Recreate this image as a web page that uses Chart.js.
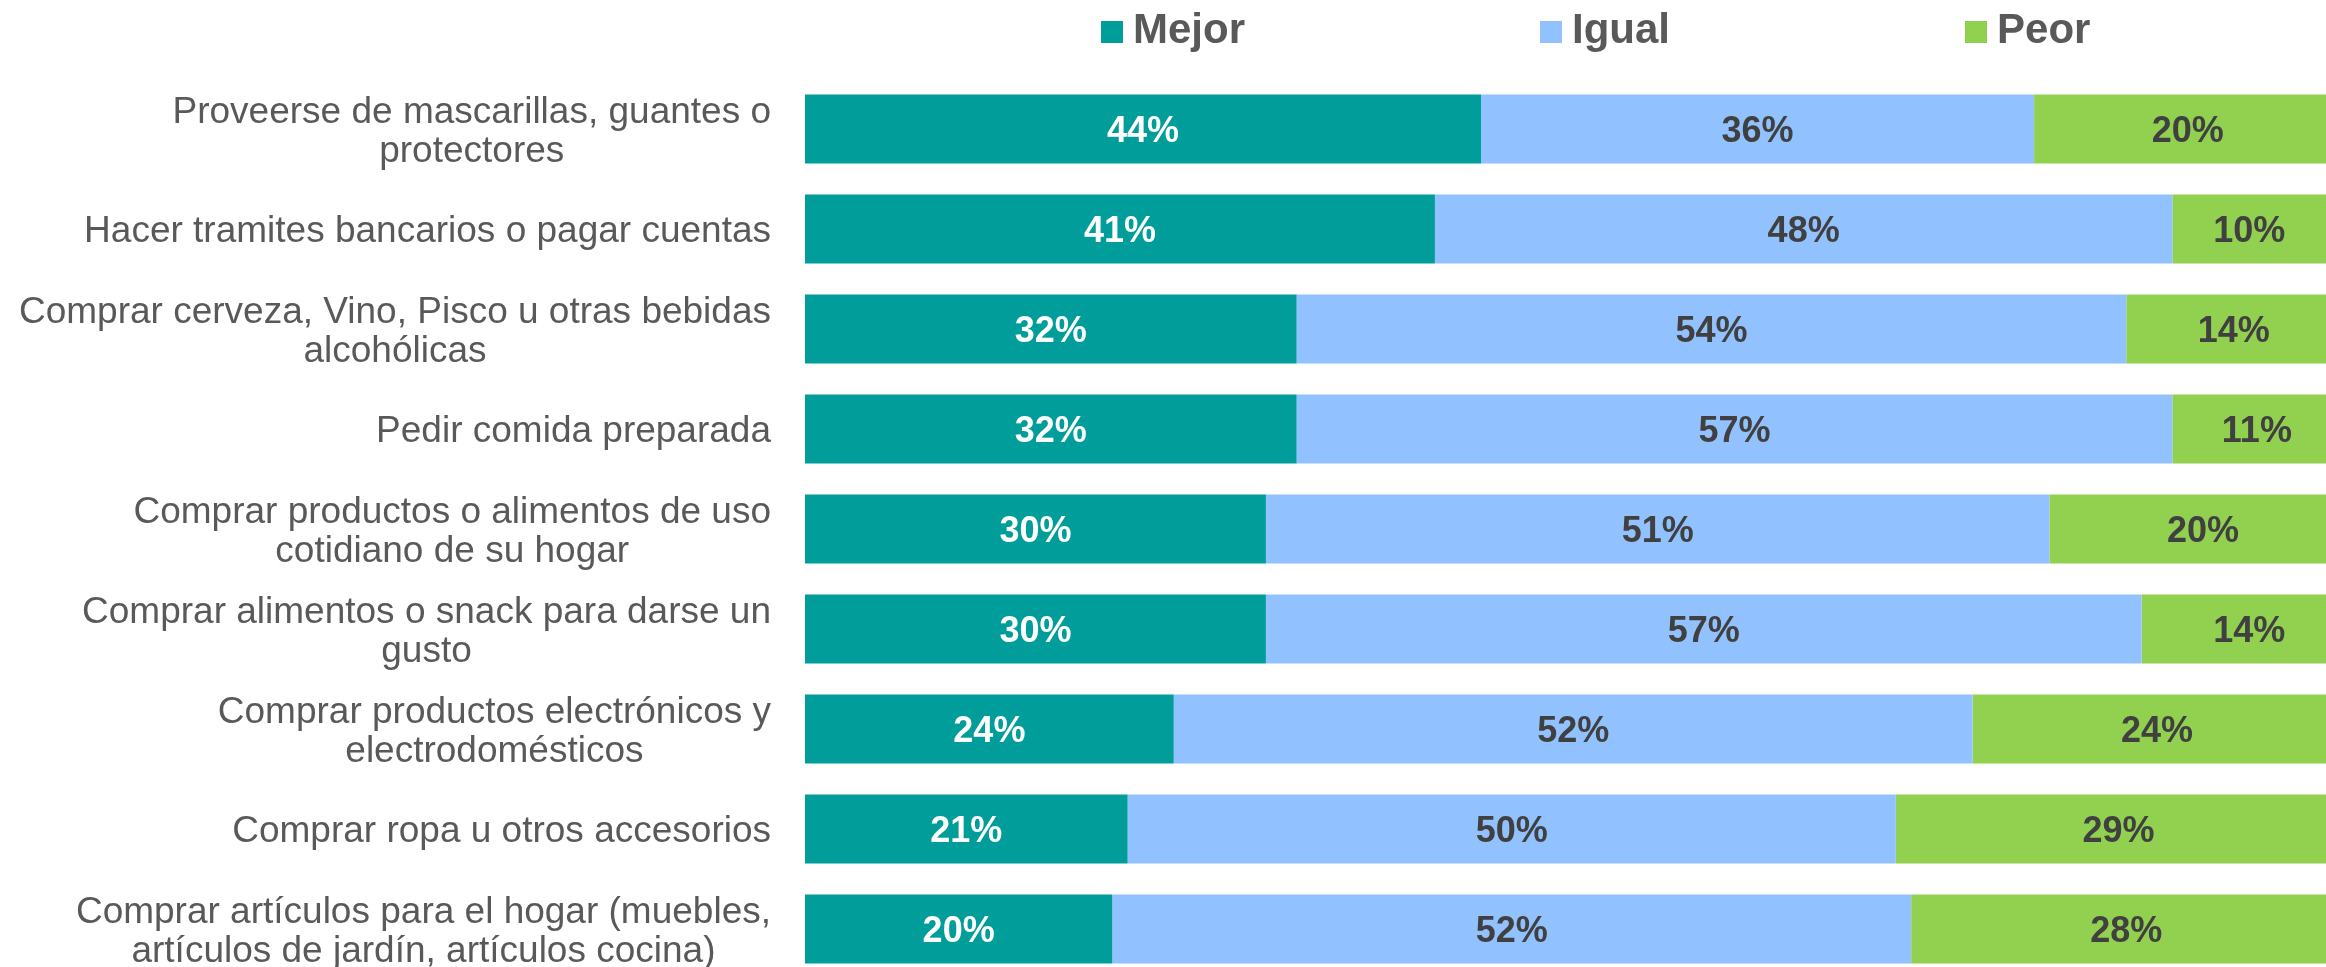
<!DOCTYPE html>
<html>
<head>
<meta charset="utf-8">
<script src="https://cdn.jsdelivr.net/npm/chart.js@4"></script>
<style>
  html, body { margin: 0; padding: 0; overflow: hidden; background: #fff; }
  #wrap { position: relative; width: 2326px; height: 979px; }
  #legend {
    position: absolute; top: 8px; left: 1101px;
    display: flex; align-items: flex-start;
    font: bold 42px "Liberation Sans", Arial, sans-serif;
    line-height: 42px; color: #595959;
  }
  #legend .item { display: flex; align-items: flex-start; margin-right: 295px; }
  #legend .box { width: 22px; height: 22px; margin-top: 13px; margin-right: 10px; }
</style>
</head>
<body>
<div id="wrap">
  <canvas id="resultChart"></canvas>
  <div id="legend"></div>
</div>
<script>
// categories (split in lines as in the original)
const categories = [
  ['Proveerse de mascarillas, guantes o', 'protectores'],
  'Hacer tramites bancarios o pagar cuentas',
  ['Comprar cerveza, Vino, Pisco u otras bebidas', 'alcohólicas'],
  'Pedir comida preparada',
  ['Comprar productos o alimentos de uso', 'cotidiano de su hogar'],
  ['Comprar alimentos o snack para darse un', 'gusto'],
  ['Comprar productos electrónicos y', 'electrodomésticos'],
  'Comprar ropa u otros accesorios',
  ['Comprar artículos para el hogar (muebles,', 'artículos de jardín, artículos cocina)']
];

const mejor = [44, 41, 32, 32, 30, 30, 24, 21, 20];
const igual = [36, 48, 54, 57, 51, 57, 52, 50, 52];
const peor  = [20, 10, 14, 11, 20, 14, 24, 29, 28];

const seriesNames = ['Mejor', 'Igual', 'Peor'];
const colors = ['#009D9A', '#92C1FF', '#92D050'];
const valueColors = ['#ffffff', '#404040', '#404040'];

// category labels: block right aligned, lines centred inside the block
const wrapLabels = {
  id: 'wrapLabels',
  afterDraw(chart) {
    const ctx = chart.ctx;
    const yScale = chart.scales.y;
    const right = chart.chartArea.left - 34;
    const lh = 38.6;
    ctx.save();
    ctx.font = '37px "Liberation Sans", Arial, sans-serif';
    ctx.fillStyle = '#595959';
    ctx.textAlign = 'center';
    ctx.textBaseline = 'middle';
    chart.data.labels.forEach(function (lbl, i) {
      const lines = Array.isArray(lbl) ? lbl : [lbl];
      const w = Math.max.apply(null, lines.map(l => ctx.measureText(l).width));
      const cx = right - w / 2;
      const cy = yScale.getPixelForTick(i) + 3;
      lines.forEach(function (l, j) {
        ctx.fillText(l, cx, cy + (j - (lines.length - 1) / 2) * lh);
      });
    });
    ctx.restore();
  }
};

// percentage inside each segment
const barValues = {
  id: 'barValues',
  afterDatasetsDraw(chart) {
    const ctx = chart.ctx;
    ctx.save();
    ctx.font = 'bold 36px "Liberation Sans", Arial, sans-serif';
    ctx.textAlign = 'center';
    ctx.textBaseline = 'middle';
    chart.data.datasets.forEach(function (ds, di) {
      const meta = chart.getDatasetMeta(di);
      ctx.fillStyle = valueColors[di];
      meta.data.forEach(function (bar, i) {
        ctx.fillText(ds.data[i] + '%', (bar.x + bar.base) / 2, bar.y + 3);
      });
    });
    ctx.restore();
  }
};

const ctx = document.getElementById('resultChart');

const resultChart = new Chart(ctx, {
  type: 'bar',
  data: {
    labels: categories,
    datasets: [
      { label: seriesNames[0], data: mejor, backgroundColor: colors[0] },
      { label: seriesNames[1], data: igual, backgroundColor: colors[1] },
      { label: seriesNames[2], data: peor,  backgroundColor: colors[2] }
    ]
  },
  options: {
    indexAxis: 'y',
    responsive: true,
    maintainAspectRatio: false,
    animation: false,
    devicePixelRatio: 1,
    layout: { padding: { top: 79, left: 0, right: 0, bottom: 0 } },
    datasets: {
      bar: { barPercentage: 0.69, categoryPercentage: 1.0, borderWidth: 0 }
    },
    plugins: {
      legend: { display: false },
      tooltip: { enabled: false }
    },
    scales: {
      x: {
        stacked: true,
        display: false,
        min: 0,
        max: 99
      },
      y: {
        stacked: true,
        grid: { display: false, drawTicks: false },
        border: { display: false },
        ticks: { display: false },
        afterFit: function (scale) { scale.width = 805; }
      }
    }
  },
  plugins: [wrapLabels, barValues]
});

// html legend from the datasets
const legendBox = document.getElementById('legend');
resultChart.data.datasets.forEach(function (ds) {
  const item = document.createElement('div');
  item.className = 'item';
  const box = document.createElement('span');
  box.className = 'box';
  box.style.background = ds.backgroundColor;
  const txt = document.createElement('span');
  txt.textContent = ds.label;
  item.appendChild(box);
  item.appendChild(txt);
  legendBox.appendChild(item);
});
</script>
</body>
</html>
